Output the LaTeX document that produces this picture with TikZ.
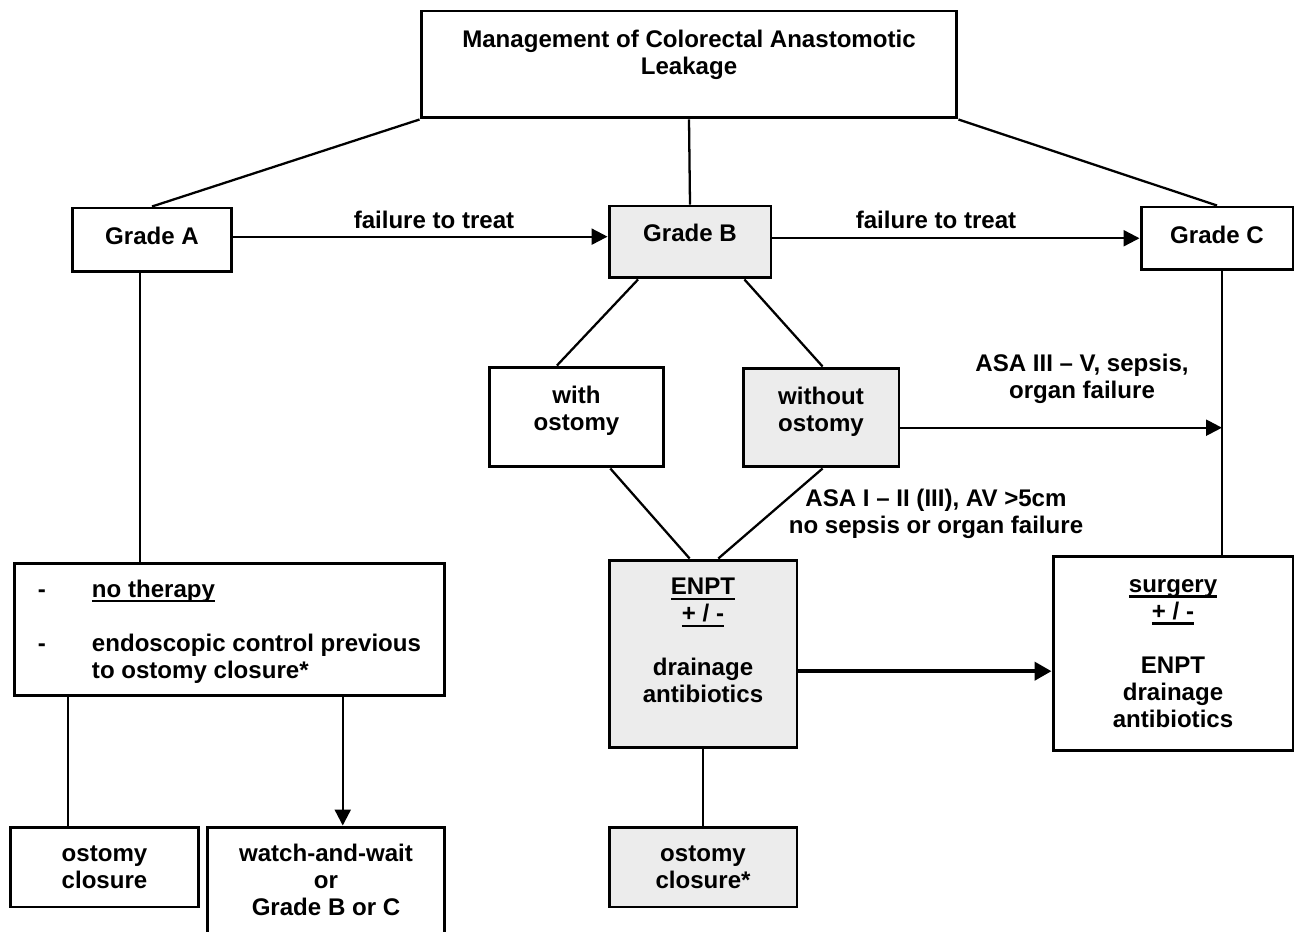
\documentclass[tikz,border=0pt]{standalone}
\usepackage{fontspec}
\setmainfont{Liberation Sans}
\usetikzlibrary{calc,arrows.meta}
\newsavebox{\undlbox}
\newcommand{\undl}[1]{\sbox{\undlbox}{#1}\rlap{\rule[-3pt]{\wd\undlbox}{1.3pt}}\usebox{\undlbox}}

\begin{document}
\begin{tikzpicture}[x=0.02cm,y=-0.02cm,
    box/.style={draw,line width=1.7pt,inner sep=0,align=center,font=\boxfont},
    shaded/.style={box,fill=gray!15},
    link/.style={line width=1.3pt},
    flow/.style={link,-{Triangle[length=0.32cm,width=0.32cm]}},
    bigflow/.style={line width=2.3pt,-{Triangle[length=0.34cm,width=0.36cm]}},
    lbl/.style={inner sep=0,align=center,font=\boxfont,text depth=0pt}]
    \providecommand{\boxfont}{\fontsize{13.7pt}{15.4pt}\selectfont\bfseries}
    \useasboundingbox (0,0) rectangle (1294,932);
    % top and grades
    \node[box,minimum width=10.72cm,minimum height=2.14cm,text depth=0.5cm] (title) at (689,64.5) {Management of Colorectal Anastomotic\\Leakage};
    \node[box,minimum width=3.2cm,minimum height=1.28cm,text depth=0.16cm] (gradeA) at (152,240) {Grade A};
    \node[shaded,minimum width=3.24cm,minimum height=1.44cm,text depth=0.38cm] (gradeB) at (690,242) {Grade B};
    \node[box,minimum width=3.04cm,minimum height=1.26cm,text depth=0.16cm] (gradeC) at (1217,238.5) {Grade C};
    % grade B branch
    \node[box,minimum width=3.5cm,minimum height=2cm,text depth=0.34cm] (withost) at (576.5,417) {with\\ostomy};
    \node[shaded,minimum width=3.12cm,minimum height=1.98cm,text depth=0.34cm] (withoutost) at (821,417.5) {without\\ostomy};
    \node[shaded,minimum width=3.76cm,minimum height=3.76cm,text depth=0.54cm] (enpt) at (703,654) {\undl{ENPT}\\\undl{+ / -}\\[15.4pt]drainage\\antibiotics};
    \node[shaded,minimum width=3.76cm,minimum height=1.6cm,text depth=0pt] (closureB) at (703,867) {ostomy\\closure*};
    % grade C branch
    \node[box,minimum width=4.8cm,minimum height=3.9cm,text depth=0pt] (surgery) at (1173,653.5) {\undl{surgery}\\\undl{+ / -}\\[15.4pt]ENPT\\drainage\\antibiotics};
    % grade A branch
    \node[box,align=left,minimum width=8.62cm,minimum height=2.66cm,text depth=0.02cm] (notherapy) at (229.5,629.5) {\makebox[1.08cm][l]{-}\undl{no therapy}\\[15.4pt]\makebox[1.08cm][l]{-}endoscopic control previous\\\hspace*{1.08cm}to ostomy closure*};
    \node[box,minimum width=3.78cm,minimum height=1.6cm,text depth=0pt] (closureA) at (104.5,867) {ostomy\\closure};
    \node[box,minimum width=4.76cm,minimum height=2.16cm,text depth=0.04cm] (watch) at (326,881) {watch-and-wait\\or\\Grade B or C};
    % labels
    \node[lbl] (fail1) at (434,219.5) {failure to treat};
    \node[lbl] (fail2) at (936,219.5) {failure to treat};
    \node[lbl] (asahigh) at (1082,376.5) {ASA III – V, sepsis,\\organ failure};
    \node[lbl] (asalow) at (936,511.5) {ASA I – II (III), AV >5cm\\no sepsis or organ failure};
    % connectors
    \draw[link] (title.south west) -- (gradeA.north);
    \draw[link] (title.south) -- (gradeB.north);
    \draw[link] (title.south east) -- (gradeC.north);
    \coordinate (aout) at ($(gradeA.north east)!.45!(gradeA.south east)$);
    \draw[flow] (aout) -- (aout -| gradeB.west);
    \coordinate (bout) at ($(gradeB.north east)!.45!(gradeB.south east)$);
    \draw[flow] (bout) -- (bout -| gradeC.west);
    \draw[link] ($(gradeB.south west)!.185!(gradeB.south east)$) -- ($(withost.north west)!.39!(withost.north east)$);
    \draw[link] ($(gradeB.south west)!.83!(gradeB.south east)$) -- ($(withoutost.north west)!.51!(withoutost.north east)$);
    \draw[link] ($(withost.south west)!.69!(withost.south east)$) -- ($(enpt.north west)!.43!(enpt.north east)$);
    \draw[link] ($(withoutost.south west)!.51!(withoutost.south east)$) -- ($(enpt.north west)!.58!(enpt.north east)$);
    \coordinate (cdrop) at ($(gradeC.south)+(5,0)$);
    \draw[link] (cdrop) -- (cdrop |- surgery.north);
    \coordinate (woout) at ($(withoutost.north east)!.6!(withoutost.south east)$);
    \draw[flow] (woout) -- (woout -| cdrop);
    \coordinate (eout) at ($(enpt.north east)!.59!(enpt.south east)$);
    \draw[bigflow] (eout) -- (eout -| surgery.west);
    \draw[link] (enpt.south) -- (closureB.north);
    \coordinate (adrop) at ($(gradeA.south west)!.425!(gradeA.south east)$);
    \draw[link] (adrop) -- (adrop |- notherapy.north);
    \coordinate (ndropl) at ($(notherapy.south west)!.128!(notherapy.south east)$);
    \draw[link] (ndropl) -- (ndropl |- closureA.north);
    \coordinate (ndropr) at ($(notherapy.south west)!.761!(notherapy.south east)$);
    \draw[flow] (ndropr) -- (ndropr |- watch.north);
\end{tikzpicture}
\end{document}
